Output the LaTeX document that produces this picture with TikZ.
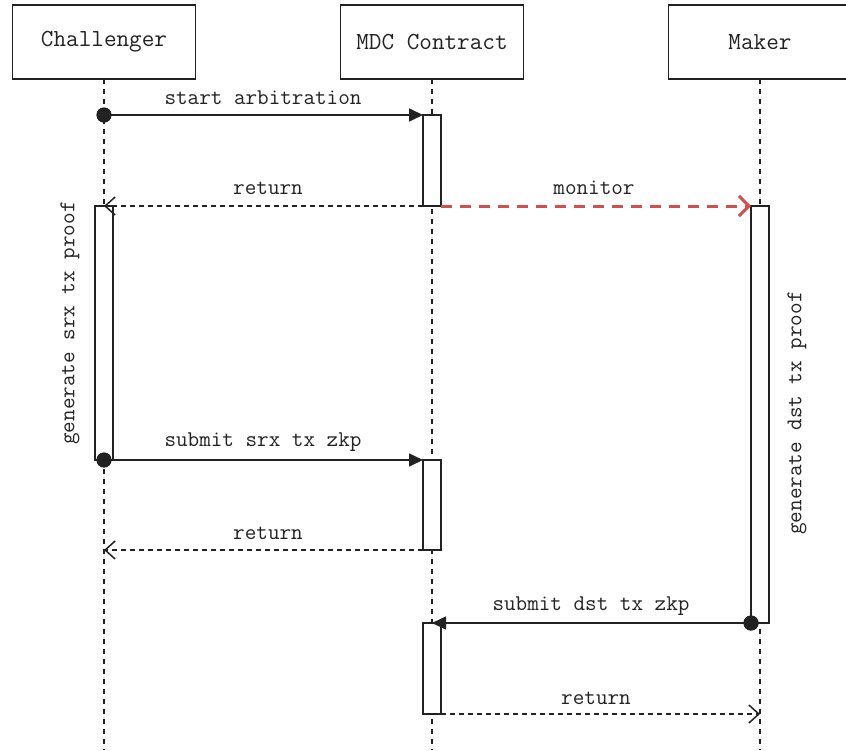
\documentclass[tikz,border=0pt]{standalone}
\usetikzlibrary{arrows.meta}
\definecolor{ink}{HTML}{222222}
\definecolor{redline}{HTML}{D0504E}
\tikzset{
  header/.style={draw=ink, line width=1.6pt, fill=white, minimum width=183, minimum height=74, inner sep=0pt, outer sep=0pt, font=\ttfamily\fontsize{24.5}{27}\selectfont, text=ink},
  lifeline/.style={draw=ink, line width=1.5pt, dash pattern=on 5pt off 5pt},
  actbox/.style={draw=ink, line width=1.6pt, fill=white, minimum width=18, inner sep=0pt, outer sep=0pt, anchor=north west},
  msg/.style={draw=ink, line width=1.6pt, -{Triangle[length=14pt,width=13pt]}},
  ret/.style={draw=ink, line width=1.5pt, dash pattern=on 5pt off 4pt, -{Straight Barb[length=10pt,width=18pt,line width=1.5pt]}},
  redmsg/.style={draw=redline, line width=3pt, dash pattern=on 11pt off 8pt, -{Straight Barb[length=10pt,width=20pt,line width=3pt]}},
  lbl/.style={font=\ttfamily\fontsize{22.5}{25}\selectfont, text=ink, inner sep=0pt},
  dot/.style={circle, fill=ink, draw=none, minimum size=15pt, inner sep=0pt, outer sep=0pt}
}
\begin{document}
\begin{tikzpicture}[x=1pt,y=-1pt]
\useasboundingbox (0,0) rectangle (846,750);
\begin{scope}
\clip (0,0) rectangle (846,750);
% lifelines
\coordinate (cbot) at (104,750);
\coordinate (mbot) at (432,750);
\coordinate (kbot) at (760,750);
\node[header] (ch) at (104,42) {Challenger};
\node[header] (mdc) at (432,42) {MDC Contract};
\node[header] (mk) at (760,42) {Maker};
\draw[lifeline] (ch.south) -- (cbot);
\draw[lifeline] (mdc.south) -- (mbot);
\draw[lifeline] (mk.south) -- (kbot);

% activation boxes
\node[actbox, minimum height=91] (a1) at (423,115) {};
\node[actbox, minimum height=254] (c1) at (95,206) {};
\node[actbox, minimum height=417] (k1) at (751,206) {};
\node[actbox, minimum height=90] (a2) at (423,460) {};
\node[actbox, minimum height=91] (a3) at (423,623) {};

% dots / coordinates
\node[dot] (d1) at (104,115) {};
\node[dot] (d2) at (104,460) {};
\node[dot] (d3) at (751,623) {};
\coordinate (r1end) at (104,206);
\coordinate (r2end) at (104,550);
\coordinate (r3end) at (760,714);
\coordinate (s3end) at (432,623);

% messages
\draw[msg] (d1.center) -- (a1.north west);
\node[lbl] (l1) at (263,98) {start arbitration};

\draw[ret] (a1.south west) -- (r1end);
\node[lbl] (l2) at (268,188) {return};

\draw[redmsg] (a1.south east) -- (k1.north west);
\node[lbl] (l3) at (594,188) {monitor};

\draw[msg] (d2.center) -- (a2.north west);
\node[lbl] (l4) at (263,442) {submit srx tx zkp};

\draw[ret] (a2.south west) -- (r2end);
\node[lbl] (l5) at (268,533) {return};

\draw[msg] (d3.center) -- (s3end);
\node[lbl] (l6) at (591,606) {submit dst tx zkp};

\draw[ret] (a3.south east) -- (r3end);
\node[lbl] (l7) at (596,698) {return};

% redraw dots on top
\node[dot] at (d1) {};
\node[dot] at (d2) {};
\node[dot] at (d3) {};

% rotated labels
\node[lbl, rotate=90] (g1) at (70,323) {generate srx tx proof};
\node[lbl, rotate=90] (g2) at (797,413) {generate dst tx proof};
\end{scope}
\end{tikzpicture}
\end{document}
